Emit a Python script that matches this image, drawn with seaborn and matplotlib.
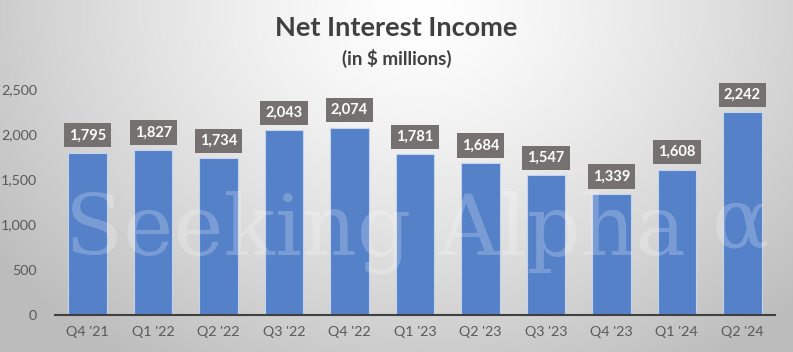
import numpy as np
import pandas as pd
import matplotlib
matplotlib.use("Agg")
import matplotlib.pyplot as plt
import seaborn as sns
from matplotlib.ticker import FuncFormatter

quarters = ["Q4 '21", "Q1 '22", "Q2 '22", "Q3 '22", "Q4 '22", "Q1 '23",
            "Q2 '23", "Q3 '23", "Q4 '23", "Q1 '24", "Q2 '24"]
values = [1795, 1827, 1734, 2043, 2074, 1781, 1684, 1547, 1339, 1608, 2242]
y_ticks = [0, 500, 1000, 1500, 2000, 2500]
title = "Net Interest Income"
subtitle = "(in $ millions)"

df = pd.DataFrame({"quarter": quarters, "value": values})

sns.set_style("white")
plt.rcParams['font.family'] = ['Lato', 'DejaVu Sans']

W, H = 793, 352
fig = plt.figure(figsize=(W / 100, H / 100), dpi=100)

# radial gradient background
bg = fig.add_axes([0, 0, 1, 1], zorder=-10)
yy, xx = np.mgrid[0:H, 0:W]
d = np.sqrt(((xx - 420) / 520.0) ** 2 + ((yy - 10) / 420.0) ** 2)
d = np.clip(d, 0, 1)
g = 1.0 - 0.26 * d ** 1.3
img = np.dstack([g, g, g])
bg.imshow(img, aspect='auto', extent=[0, 1, 0, 1], origin='upper')
bg.axis('off')

ax = fig.add_axes([55 / W, 1 - 315 / H, (775 - 55) / W, (315 - 89) / H])
ax.patch.set_alpha(0)
sns.barplot(data=df, x="quarter", y="value", color="#5581C9", width=0.59,
            edgecolor="#C5D3EC", linewidth=0.8, saturation=1, ax=ax)

ax.set_xlim(-0.5, 10.5)
ax.set_ylim(0, 2500)
ax.set_yticks(y_ticks)
ax.yaxis.set_major_formatter(FuncFormatter(lambda v, p: f"{int(v):,}"))
ax.set_xlabel("")
ax.set_ylabel("")
for s in ["top", "right", "left"]:
    ax.spines[s].set_visible(False)
ax.spines["bottom"].set_color("#404040")
ax.spines["bottom"].set_linewidth(1.5)
ax.tick_params(axis='both', length=0, labelsize=10.3, colors="#595959", pad=8)
ax.tick_params(axis='y', pad=13)

for i, v in enumerate(values):
    ax.annotate(f"{v:,}", xy=(i, v), xytext=(0, 12.5), textcoords="offset points",
                ha="center", va="center", color="white", fontsize=10.5,
                fontweight="bold",
                bbox=dict(boxstyle="square,pad=0.35", fc="#767171", ec="none"))

fig.text(0.5, 1 - 28 / H, title, ha="center", va="center", fontsize=19.5,
         fontweight="bold", color="#404040")
fig.text(0.5, 1 - 58 / H, subtitle, ha="center", va="center", fontsize=13.5,
         fontweight="bold", color="#404040")

# watermark
fig.text(65 / W, 1 - 232 / H, "Seeking Alpha", ha="left", va="center",
         fontsize=61, family="DejaVu Serif", color="white", alpha=0.22, zorder=5)
fig.text(712 / W, 1 - 225 / H, "α", ha="left", va="center",
         fontsize=61, family="DejaVu Serif", color="white", alpha=0.22, zorder=5)

fig.savefig("out.png", dpi=100)
